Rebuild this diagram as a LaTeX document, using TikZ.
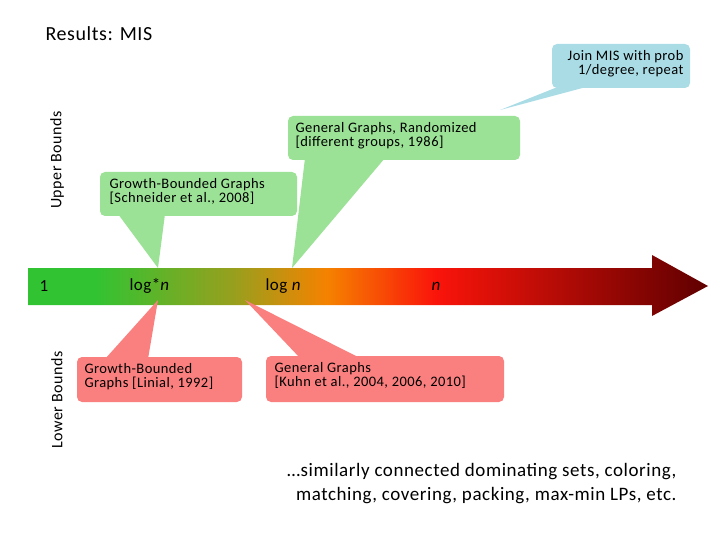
\documentclass[tikz,border=0pt]{standalone}
\usepackage{fontspec}
\setmainfont{Carlito}[LetterSpace=3]
\definecolor{gbox}{RGB}{155,225,150}
\definecolor{rbox}{RGB}{250,128,128}
\definecolor{bbox}{RGB}{170,220,230}
\definecolor{ag}{RGB}{50,195,50}
\definecolor{ao}{RGB}{150,160,30}
\definecolor{aor}{RGB}{245,130,0}
\definecolor{ar}{RGB}{250,20,10}
\definecolor{ad}{RGB}{95,0,0}
\pgfdeclarehorizontalshading{axisshade}{100bp}{
 color(0bp)=(ag); color(30bp)=(ag);
 color(40bp)=(ao); color(47bp)=(aor);
 color(55bp)=(ar); color(75bp)=(ad); color(100bp)=(ad)}
\begin{document}
\begin{tikzpicture}[x=1pt,y=-1pt,
 lbl/.style={font=\fontsize{14.5}{16}\selectfont},
 ax/.style={font=\fontsize{17}{20}\selectfont}]
\useasboundingbox (0,0) rectangle (720,540);
\node[anchor=west,font=\fontsize{20}{24}\selectfont] (title) at (42,34) {Results: MIS};
\node[rotate=90,font=\fontsize{16}{18}\selectfont] (ub) at (57,160) {Upper Bounds};
\node[rotate=90,font=\fontsize{16}{18}\selectfont] (lb) at (57,400) {Lower Bounds};
% arrow
\shade[shading=axisshade] (28,268) -- (652,268) -- (652,255) -- (708,286) -- (652,316) -- (652,305) -- (28,305) -- cycle;
\node[ax,anchor=west] (one) at (36,286) {1};
\node[ax,anchor=west] (ls) at (126,286) {log*\textit{n}};
\node[ax,anchor=west] (l) at (262,286) {log \textit{n}};
\node[ax,anchor=west] (n) at (428,286) {\textit{n}};
\coordinate (t1) at (158,268); \coordinate (t2) at (292,268);
\coordinate (t3) at (500,110); \coordinate (t4) at (158,300); \coordinate (t5) at (245,300);
% callouts
\fill[gbox,rounded corners=5pt] (100,172) rectangle (297,216);
\fill[gbox] (118,214) -- (t1) -- (165,214) -- cycle;
\node[lbl,anchor=north west,align=left] (g1) at (106,175) {Growth-Bounded Graphs\\[-2pt][Schneider et al., 2008]};
\fill[gbox,rounded corners=5pt] (288,116) rectangle (520,160);
\fill[gbox] (305,158) -- (t2) -- (385,158) -- cycle;
\node[lbl,anchor=north west,align=left] (g2) at (292,119) {General Graphs, Randomized\\[-2pt][different groups, 1986]};
\fill[bbox,rounded corners=5pt] (552,44) rectangle (690,88);
\fill[bbox] (560,86) -- (t3) -- (590,86) -- cycle;
\node[lbl,anchor=north east,align=right] (b1) at (687,47) {Join MIS with prob\\[-2pt]1/degree, repeat};
\fill[rbox,rounded corners=5pt] (77,357) rectangle (242,402);
\fill[rbox] (105,359) -- (t4) -- (148,359) -- cycle;
\node[lbl,anchor=north west,align=left] (r1) at (81,360) {Growth-Bounded\\[-2pt]Graphs [Linial, 1992]};
\fill[rbox,rounded corners=5pt] (266,356) rectangle (504,402);
\fill[rbox] (300,358) -- (t5) -- (360,358) -- cycle;
\node[lbl,anchor=north west,align=left] (r2) at (271,359) {General Graphs\\[-2pt][Kuhn et al., 2004, 2006, 2010]};
\node[anchor=north east,align=right,font=\fontsize{19}{24}\selectfont] (foot) at (680,460) {\dots similarly connected dominating sets, coloring,\\matching, covering, packing, max-min LPs, etc.};
\end{tikzpicture}
\end{document}
